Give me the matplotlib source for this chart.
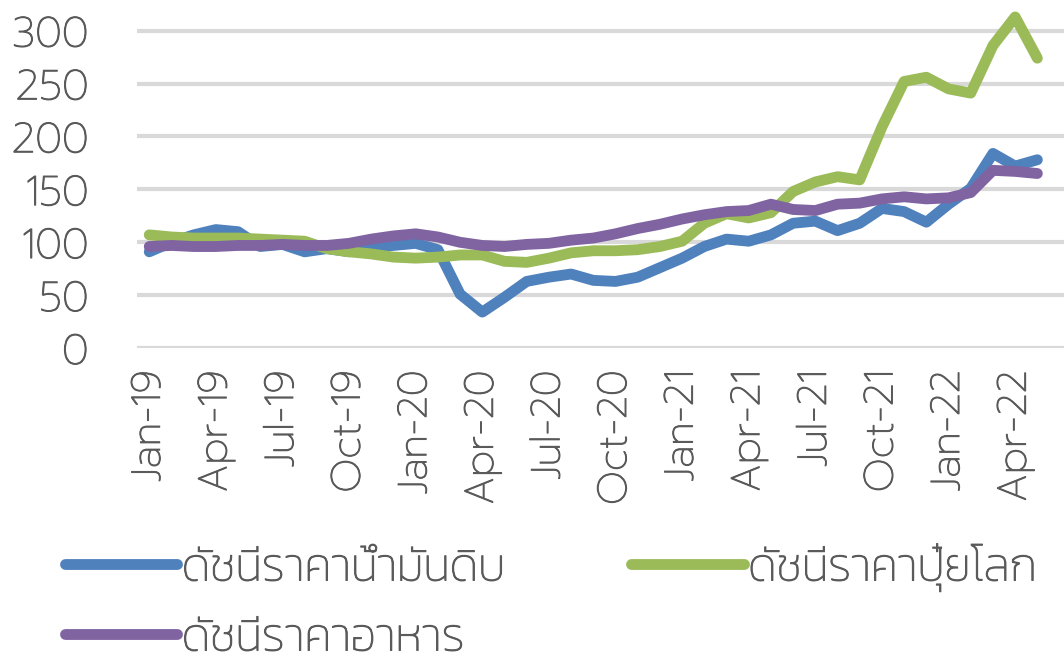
import matplotlib
matplotlib.use("Agg")
import matplotlib.pyplot as plt
import matplotlib.patheffects as pe

# ดัชนีราคา รายเดือน ม.ค. 2562 - พ.ค. 2565
months = ["Jan-19", "Feb-19", "Mar-19", "Apr-19", "May-19", "Jun-19", "Jul-19", "Aug-19", "Sep-19",
          "Oct-19", "Nov-19", "Dec-19", "Jan-20", "Feb-20", "Mar-20", "Apr-20", "May-20", "Jun-20",
          "Jul-20", "Aug-20", "Sep-20", "Oct-20", "Nov-20", "Dec-20", "Jan-21", "Feb-21", "Mar-21",
          "Apr-21", "May-21", "Jun-21", "Jul-21", "Aug-21", "Sep-21", "Oct-21", "Nov-21", "Dec-21",
          "Jan-22", "Feb-22", "Mar-22", "Apr-22", "May-22"]

oil = [91, 100, 107, 112, 110, 96, 98, 91, 94, 91, 96, 97, 99, 93, 51, 34, 48, 63, 67, 70,
       64, 63, 67, 76, 85, 96, 103, 101, 107, 118, 120, 111, 118, 132, 129, 119,
       136, 151, 184, 172, 178]

fertilizer = [107, 105, 104, 104, 104, 103, 102, 101, 94, 91, 89, 86, 85, 86, 88, 88, 82, 81,
              85, 90, 92, 92, 93, 96, 101, 118, 127, 123, 128, 148, 157, 162, 159, 209, 252,
              256, 245, 241, 286, 313, 274]

food = [96, 97, 96, 96, 97, 97, 98, 97, 97, 99, 103, 106, 108, 105, 100, 97, 96, 98, 99, 102,
        104, 108, 113, 117, 122, 126, 129, 130, 136, 131, 130, 136, 137, 141, 143, 141,
        142, 147, 168, 167, 165]

labels = ["ดัชนีราคาน้ำมันดิบ", "ดัชนีราคาปุ๋ยโลก", "ดัชนีราคาอาหาร"]
colors = ["#4F81BD", "#9BBB59", "#8064A2"]
text_color = "#595959"

plt.rcParams["font.family"] = ["Kanit", "DejaVu Sans"]
plt.rcParams["font.weight"] = 200
tick_font = ["Prompt", "Kanit", "DejaVu Sans"]
# ฟอนต์ ExtraLight บางไปนิด เติมเส้นขอบบาง ๆ ให้หนาขึ้น
thicken = [pe.withStroke(linewidth=0.7, foreground=text_color)]

fig = plt.figure(figsize=(10.64, 6.58), dpi=100)
ax = fig.add_axes([0.129, 0.471, 0.871, 0.529])

x = list(range(len(months)))
lines = []
for series, color, label in zip([oil, fertilizer, food], colors, labels):
    ln, = ax.plot(x, series, color=color, linewidth=7.8, solid_capstyle="round",
                  solid_joinstyle="round", label=label, clip_on=False)
    lines.append(ln)

ax.set_ylim(0, 329)
ax.set_xlim(-0.54, 41.2)
ax.set_yticks(range(0, 301, 50))
ax.set_xticks(x[::3])
ax.set_xticklabels(months[::3], rotation=90)
ax.tick_params(axis="y", labelsize=30, colors=text_color, length=0, pad=35)
ax.tick_params(axis="x", labelsize=29, colors=text_color, length=0, pad=16)
for lbl in ax.get_yticklabels() + ax.get_xticklabels():
    lbl.set_family(tick_font)
    lbl.set_weight(200)
    lbl.set_path_effects(thicken)
for lbl in ax.get_yticklabels():
    lbl.set_horizontalalignment("right")
ax.yaxis.grid(True, color="#D9D9D9", linewidth=3)
ax.set_axisbelow(True)
for s in ax.spines.values():
    s.set_visible(False)

# แถวแรก: น้ำมันดิบ, ปุ๋ย  แถวสอง: อาหาร (legend เติมทีละคอลัมน์)
order = [0, 2, 1]
leg = fig.legend([lines[i] for i in order], [labels[i] for i in order],
                 loc="upper left", bbox_to_anchor=(0.061, 0.174), ncol=2,
                 frameon=False, fontsize=33, handlelength=2.45, handletextpad=0.1,
                 columnspacing=2.75, labelspacing=0.62, labelcolor=text_color,
                 borderpad=0, borderaxespad=0)
for t in leg.get_texts():
    t.set_path_effects(thicken)

fig.savefig("out.png", dpi=100)
